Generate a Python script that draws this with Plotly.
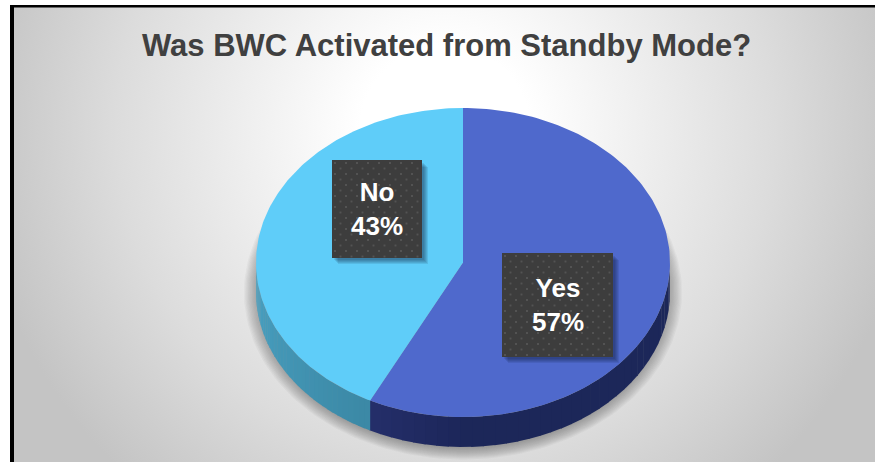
import base64
import numpy as np
import plotly.graph_objects as go

# Data
categories = ["Yes", "No"]
shares = [57.4, 42.6]
title_text = "Was BWC Activated from Standby Mode?"

# Colours
top_colors = {"Yes": "#4f69cc", "No": "#5fcdf9"}
side_from = {"Yes": "#262f6c", "No": "#3c89a6"}
side_to = {"Yes": "#1c2759", "No": "#4aa3c4"}

# Layout constants (axes run in page pixels)
W, H = 875, 462
CX, CY, RX, RY, DEPTH = 463.0, 262.5, 207.0, 154.5, 30.0
label_boxes = {"Yes": (502, 613, 253, 357), "No": (332, 422, 160, 258)}


def ell(theta, dy=0.0, rx=RX, ry=RY):
    return CX + rx * np.sin(theta), CY + dy - ry * np.cos(theta)


def hex_rgb(h):
    return np.array([int(h[i:i + 2], 16) for i in (1, 3, 5)], dtype=float)


fig = go.Figure()

# soft shadow round the disc
LAYERS = 14
for i in range(LAYERS):
    grow = 18 * (1 - i / LAYERS)
    t = np.linspace(0, 2 * np.pi, 200)
    x, y = ell(t, dy=DEPTH - 2 + grow * 0.1, rx=RX + grow - 6, ry=RY + grow * 0.7)
    fig.add_trace(go.Scatter(x=x, y=y, mode="lines", line=dict(width=0), fill="toself",
                             fillcolor="rgba(90,90,90,0.055)", hoverinfo="skip", showlegend=False))

# slice angles, clockwise from 12 o'clock
fractions = np.array(shares) / sum(shares)
edges = np.concatenate([[0], np.cumsum(fractions)]) * 2 * np.pi

# side wall, visible for the front half only
for k, cat in enumerate(categories):
    a0, a1 = edges[k], edges[k + 1]
    lo, hi = max(a0, np.pi / 2), min(a1, 3 * np.pi / 2)
    n = 36
    steps = np.linspace(lo, hi, n + 1)
    c0, c1 = hex_rgb(side_from[cat]), hex_rgb(side_to[cat])
    for j in range(n):
        if cat == "Yes":
            f = min(1.0, (hi - steps[j]) / (hi - lo) * 4)
            col = c0 + (c1 - c0) * f
        else:
            f = (steps[j] - lo) / (hi - lo)
            col = c0 + (c1 - c0) * f
        t = np.linspace(steps[j], steps[j + 1] + 0.004, 5)
        xa, ya = ell(t)
        xb, yb = ell(t[::-1], dy=DEPTH)
        fig.add_trace(go.Scatter(x=np.r_[xa, xb], y=np.r_[ya, yb], mode="lines", line=dict(width=0),
                                 fill="toself", fillcolor="rgb(%d,%d,%d)" % tuple(col),
                                 hoverinfo="skip", showlegend=False))

# top face
for k, cat in enumerate(categories):
    t = np.linspace(edges[k], edges[k + 1], 160)
    x, y = ell(t)
    fig.add_trace(go.Scatter(x=np.r_[CX, x, CX], y=np.r_[CY, y, CY], mode="lines", line=dict(width=0),
                             fill="toself", fillcolor=top_colors[cat], name=cat,
                             hoverinfo="name", showlegend=False))

# data label boxes: shadow, box, dots
for cat in categories:
    x0, x1, y0, y1 = label_boxes[cat]
    for g in range(5):
        fig.add_trace(go.Scatter(x=[x0 + 2 + g, x1 + 2 + g, x1 + 2 + g, x0 + 2 + g, x0 + 2 + g],
                                 y=[y0 + 3 + g, y0 + 3 + g, y1 + 2 + g, y1 + 2 + g, y0 + 3 + g],
                                 mode="lines", line=dict(width=0), fill="toself",
                                 fillcolor="rgba(10,20,50,0.10)", hoverinfo="skip", showlegend=False))
    fig.add_trace(go.Scatter(x=[x0, x1, x1, x0, x0], y=[y0, y0, y1, y1, y0], mode="lines",
                             line=dict(width=0), fill="toself", fillcolor="#3d3d3d",
                             hoverinfo="skip", showlegend=False))
    gx, gy = [], []
    for r, yy in enumerate(np.arange(y0 + 3, y1 - 1, 5.5)):
        for xx in np.arange(x0 + 3 + (r % 2) * 5.5, x1 - 1, 11):
            gx.append(xx)
            gy.append(yy)
    fig.add_trace(go.Scatter(x=gx, y=gy, mode="markers", hoverinfo="skip", showlegend=False,
                             marker=dict(symbol="square", size=2, color="#535353", line=dict(width=0))))
    share = shares[categories.index(cat)]
    fig.add_annotation(x=(x0 + x1) / 2, y=(y0 + y1) / 2, text=f"{cat}<br>{share:.0f}%", showarrow=False,
                       font=dict(family="Liberation Sans", size=26, color="#ffffff", weight="bold"),
                       xanchor="center", yanchor="middle")

# title
fig.add_annotation(x=446, y=45, text=title_text, showarrow=False,
                   font=dict(family="Liberation Sans", size=31, color="#404040", weight="bold"),
                   xanchor="center", yanchor="middle")

# background gradient panel
svg = f'''<svg xmlns="http://www.w3.org/2000/svg" width="{W}" height="{H}" viewBox="0 0 {W} {H}" preserveAspectRatio="none">
<defs><radialGradient id="g" gradientUnits="userSpaceOnUse" cx="445" cy="130" r="470">
<stop offset="0.18" stop-color="#ffffff"/><stop offset="0.7" stop-color="#dcdcdc"/><stop offset="1" stop-color="#c4c4c4"/>
</radialGradient></defs><rect width="{W}" height="{H}" fill="url(#g)"/></svg>'''
uri = "data:image/svg+xml;base64," + base64.b64encode(svg.encode()).decode()

fig.update_layout(
    width=W, height=H, margin=dict(l=0, r=0, t=0, b=0), autosize=False,
    paper_bgcolor="#ffffff", plot_bgcolor="rgba(0,0,0,0)", showlegend=False,
    xaxis=dict(range=[0, W], visible=False, fixedrange=True),
    yaxis=dict(range=[H, 0], visible=False, fixedrange=True),
    images=[dict(source=uri, xref="x", yref="y", x=0, y=0, sizex=W, sizey=H,
                 sizing="stretch", layer="below", xanchor="left", yanchor="top")],
    shapes=[
        dict(type="rect", xref="x", yref="y", x0=0, x1=W, y0=0, y1=5, fillcolor="#ffffff", line_width=0, layer="above"),
        dict(type="rect", xref="x", yref="y", x0=0, x1=10, y0=0, y1=H, fillcolor="#ffffff", line_width=0, layer="above"),
        dict(type="rect", xref="x", yref="y", x0=10, x1=W, y0=5, y1=7.5, fillcolor="#000000", line_width=0, layer="above"),
        dict(type="rect", xref="x", yref="y", x0=10, x1=14, y0=5, y1=H, fillcolor="#000000", line_width=0, layer="above"),
    ],
)
fig.write_html("out.html", config={"displayModeBar": False},
               post_script="document.body.style.margin='0';document.body.style.overflow='hidden';")
